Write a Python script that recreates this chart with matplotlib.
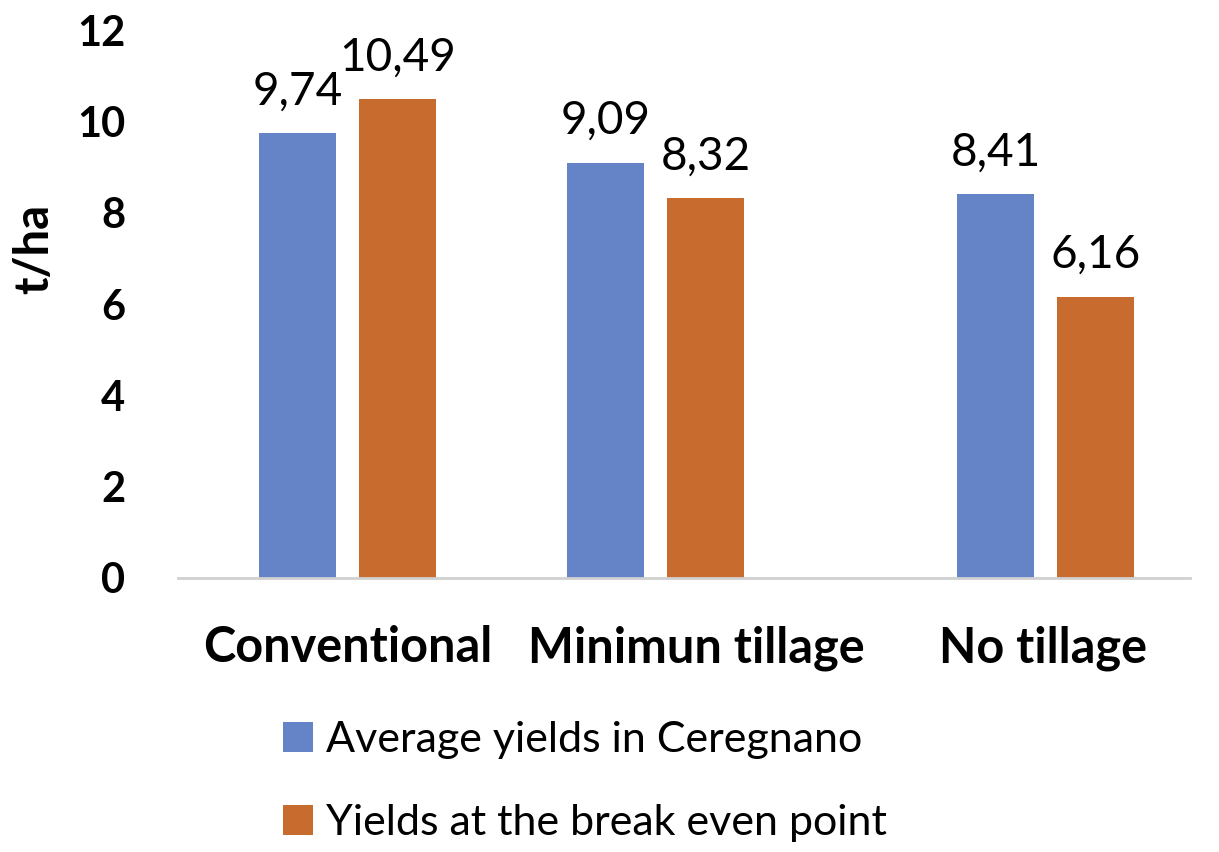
import numpy as np
import matplotlib.pyplot as plt

categories = ["Conventional", "Minimun tillage", "No tillage"]
average_yields = [9.74, 9.09, 8.41]
break_even_yields = [10.49, 8.32, 6.16]
series_names = ["Average yields in Ceregnano", "Yields at the break even point"]
y_ticks = [0, 2, 4, 6, 8, 10, 12]

blue = "#6584C8"
orange = "#C76B2F"

plt.rcParams["font.family"] = ["Lato", "DejaVu Sans"]

# group centres are not evenly spaced in the reference
group_x = np.array([0.0, 1.0, 2.266])
label_x = np.array([0.0, 1.13, 2.256])
width = 0.25
offset = 0.1623

fig = plt.figure(figsize=(12.19, 8.52), dpi=100)
ax = fig.add_axes([0.146, 0.3216, 0.830, 0.643])

b1 = ax.bar(group_x - offset, average_yields, width, color=blue, label=series_names[0])
b2 = ax.bar(group_x + offset, break_even_yields, width, color=orange, label=series_names[1])

for bars, vals in [(b1, average_yields), (b2, break_even_yields)]:
    for bar, v in zip(bars, vals):
        ax.annotate(f"{v:.2f}".replace(".", ","),
                    (bar.get_x() + bar.get_width() / 2, v),
                    xytext=(0, 15), textcoords="offset points",
                    ha="center", va="bottom", fontsize=33)

ax.set_ylim(0, 12)
ax.set_xlim(-0.552, 2.734)
ax.set_yticks(y_ticks)
ax.set_yticklabels([str(t) for t in y_ticks], fontsize=30, fontweight="bold")
ax.set_xticks(label_x)
ax.set_xticklabels(categories, fontsize=35, fontweight="bold")
ax.tick_params(axis="both", length=0)
ax.tick_params(axis="y", pad=38)
ax.tick_params(axis="x", pad=34)

for side in ["top", "right", "left"]:
    ax.spines[side].set_visible(False)
ax.spines["bottom"].set_color("#D0D0D0")
ax.spines["bottom"].set_linewidth(2)

ax.set_ylabel("t/ha", fontsize=34, fontweight="bold")
ax.yaxis.set_label_coords(-0.12, 0.6)

leg = fig.legend(handles=[b1, b2], loc="upper left", bbox_to_anchor=(0.218, 0.174),
                 ncol=1, frameon=False, fontsize=31, handlelength=0.7, handleheight=0.7,
                 handletextpad=0.3, labelspacing=1.05, borderaxespad=0)

fig.savefig("out.png", dpi=100)
